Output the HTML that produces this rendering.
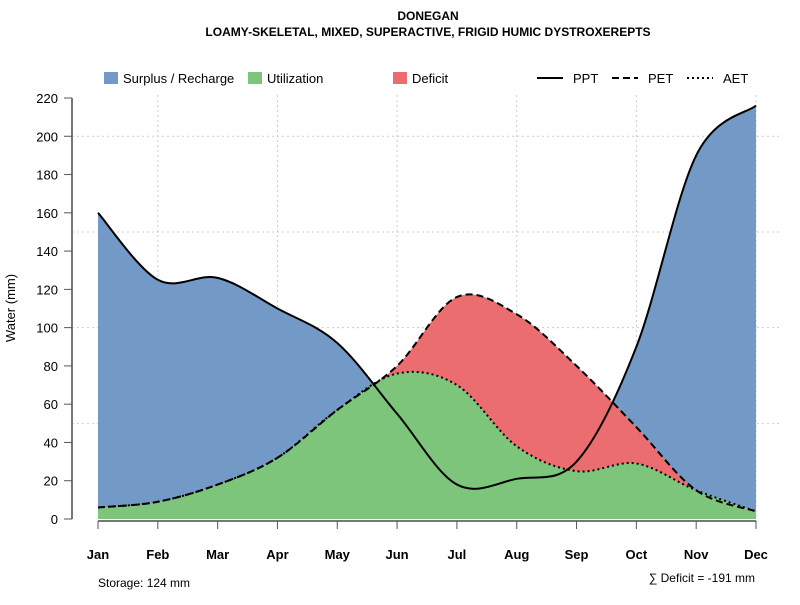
<!DOCTYPE html>
<html><head><meta charset="utf-8"><style>
body{margin:0;background:#fff}
svg{font-family:"Liberation Sans",sans-serif}
</style></head><body>
<svg id="c" width="800" height="600" xmlns="http://www.w3.org/2000/svg">
<text x="428" y="20" text-anchor="middle" font-size="12" font-weight="bold">DONEGAN</text>
<text x="428" y="36" text-anchor="middle" font-size="12" font-weight="bold">LOAMY-SKELETAL, MIXED, SUPERACTIVE, FRIGID HUMIC DYSTROXEREPTS</text>
<g font-size="13">
<rect x="104" y="72" width="14" height="12" fill="#7399c6"/>
<text x="123" y="83">Surplus / Recharge</text>
<rect x="248" y="72" width="14" height="12" fill="#7dc57a"/>
<text x="267" y="83">Utilization</text>
<rect x="393" y="72" width="14" height="12" fill="#ec6d6f"/>
<text x="412" y="83">Deficit</text>
<line x1="537" y1="78" x2="563" y2="78" stroke="#000" stroke-width="2"/>
<text x="573" y="83">PPT</text>
<line x1="612" y1="78" x2="638" y2="78" stroke="#000" stroke-width="2" stroke-dasharray="7,4"/>
<text x="648" y="83">PET</text>
<line x1="687" y1="78" x2="713" y2="78" stroke="#000" stroke-width="2" stroke-dasharray="2,3"/>
<text x="723" y="83">AET</text>
</g>
<g id="plot"></g>
<text x="15" y="308" transform="rotate(-90 15 308)" text-anchor="middle" font-size="13">Water (mm)</text>
<text x="98" y="587" font-size="12">Storage: 124 mm</text>
<text x="755" y="582" text-anchor="end" font-size="12">∑ Deficit = -191 mm</text>
</svg>
<script>
const months=["Jan","Feb","Mar","Apr","May","Jun","Jul","Aug","Sep","Oct","Nov","Dec"];
const ppt=[160,125,126,110,92,55,18,21,30,90,190,216];
const pet=[6,9,18,32,57,80,116,107,80,48,15,4];
const aet=[6,9,18,32,57,76,70,38,25,29,15,4];
const yTicks=[0,20,40,60,80,100,120,140,160,180,200,220];
const NS="http://www.w3.org/2000/svg";
const g=document.getElementById("plot");
const X=i=>98+i*(756-98)/11;
const Y=v=>519-v*(421/220);
function el(t,a,p){const e=document.createElementNS(NS,t);for(const k in a)e.setAttribute(k,a[k]);(p||g).appendChild(e);return e;}
function curve(vals){
  const p=vals.map((v,i)=>[X(i),Y(v)]);
  let d=`M${p[0][0]},${p[0][1]}`;
  for(let i=0;i<p.length-1;i++){
    const p0=p[Math.max(i-1,0)],p1=p[i],p2=p[i+1],p3=p[Math.min(i+2,p.length-1)];
    const c1=[p1[0]+(p2[0]-p0[0])/6,p1[1]+(p2[1]-p0[1])/6];
    const c2=[p2[0]-(p3[0]-p1[0])/6,p2[1]-(p3[1]-p1[1])/6];
    d+=`C${c1[0]},${c1[1]} ${c2[0]},${c2[1]} ${p2[0]},${p2[1]}`;
  }
  return d;
}
function area(vals){return curve(vals)+`L${X(vals.length-1)},${Y(0)}L${X(0)},${Y(0)}Z`;}
// grid
[50,100,150,200].forEach(v=>{const l=el("line",{x1:72,x2:782,y1:Y(v),y2:Y(v),stroke:"#ccc","stroke-dasharray":"2,3"});

});
months.forEach((m,i)=>{if(i%2==1){const l=el("line",{x1:X(i),x2:X(i),y1:95,y2:521,stroke:"#ccc","stroke-dasharray":"2,3"});

}});
// areas
let a=el("path",{d:area(ppt),fill:"#7399c6"});


a=el("path",{d:area(pet),fill:"#ec6d6f"});


a=el("path",{d:area(aet),fill:"#7dc57a"});


// lines
let l=el("path",{d:curve(ppt),fill:"none",stroke:"#000","stroke-width":2});


l=el("path",{d:curve(pet),fill:"none",stroke:"#000","stroke-width":2,"stroke-dasharray":"7,4"});


l=el("path",{d:curve(aet),fill:"none",stroke:"#000","stroke-width":2,"stroke-dasharray":"2,3"});


// y axis
l=el("line",{x1:72,x2:72,y1:Y(220),y2:Y(0),stroke:"#777","stroke-width":2});


yTicks.forEach(v=>{
  el("line",{x1:64,x2:72,y1:Y(v),y2:Y(v),stroke:"#555"});
  const t=el("text",{x:58,y:Y(v)+5,"text-anchor":"end","font-size":13});
  t.textContent=v;
  
  
});
// x axis
l=el("line",{x1:X(0),x2:X(11),y1:521,y2:521,stroke:"#777","stroke-width":2});


months.forEach((m,i)=>{
  el("line",{x1:X(i),x2:X(i),y1:521,y2:529,stroke:"#555"});
  const t=el("text",{x:X(i),y:559,"text-anchor":"middle","font-size":13,"font-weight":"bold"});
  t.textContent=m;
  
  
});
</script>
</body></html>
